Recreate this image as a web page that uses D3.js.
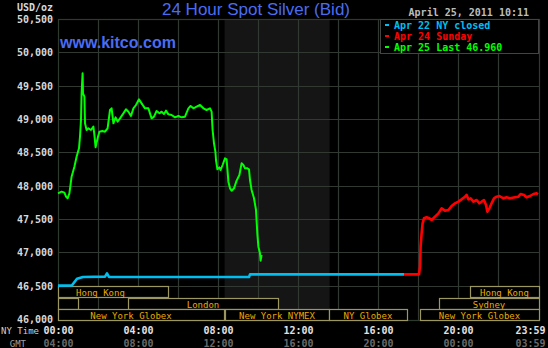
<!DOCTYPE html>
<html>
<head>
<meta charset="utf-8">
<script src="https://cdn.jsdelivr.net/npm/d3@7"></script>
<style>
  html, body { margin: 0; padding: 0; background: #000; }
  svg { display: block; }
</style>
</head>
<body>
<svg id="chart" width="548" height="348"></svg>
<script>
// Apr 25 (today) - green, hours after NY midnight
const todayHours = [0, 0.18, 0.32, 0.40, 0.48, 0.57, 0.68, 0.82, 0.93, 1.05, 1.10, 1.15, 1.18, 1.23, 1.25, 1.32, 1.35, 1.43, 1.52, 1.65, 1.77, 1.82, 1.88, 1.98, 2.07, 2.22, 2.35, 2.48, 2.60, 2.68, 2.77, 2.88, 2.98, 3.10, 3.27, 3.40, 3.52, 3.65, 3.77, 3.90, 4.05, 4.18, 4.35, 4.52, 4.68, 4.80, 4.93, 5.07, 5.18, 5.30, 5.40, 5.52, 5.68, 5.85, 6.02, 6.18, 6.35, 6.52, 6.63, 6.77, 6.93, 7.10, 7.27, 7.43, 7.60, 7.68, 7.73, 7.80, 7.87, 7.90, 7.97, 8.07, 8.13, 8.23, 8.35, 8.43, 8.52, 8.60, 8.68, 8.80, 8.93, 9.07, 9.18, 9.27, 9.35, 9.47, 9.55, 9.60, 9.68, 9.80, 9.90, 9.97, 10.02, 10.10, 10.13, 10.18];
const todayBid = [47885, 47910, 47895, 47835, 47810, 47885, 48135, 48285, 48435, 48560, 48735, 48985, 49385, 49685, 49385, 49335, 48935, 48835, 48860, 48835, 48885, 48760, 48575, 48710, 48810, 48820, 48810, 48860, 49135, 49160, 48935, 49025, 48960, 49010, 49085, 49145, 49110, 49045, 49160, 49210, 49295, 49235, 49160, 49160, 49010, 49035, 49120, 49085, 49110, 49075, 49125, 49070, 49060, 49025, 49045, 49025, 49035, 49160, 49195, 49160, 49185, 49210, 49160, 49135, 49160, 49110, 48835, 48635, 48510, 48385, 48245, 48275, 48235, 48310, 48410, 48395, 48060, 47960, 47925, 47960, 48075, 48160, 48335, 48310, 48260, 48260, 48245, 48085, 47935, 47810, 47635, 47260, 47085, 46985, 46875, 46960];

// Apr 22 NY closed - blue
const closedHours = [0, 0.70, 0.95, 1.25, 2.35, 2.45, 2.55, 9.55, 9.60, 17.30];
const closedBid = [46500, 46505, 46605, 46630, 46635, 46685, 46630, 46630, 46670, 46670];

// Apr 24 Sunday - red
const sundayHours = [17.30, 18.05, 18.10, 18.13, 18.18, 18.23, 18.30, 18.43, 18.57, 18.68, 18.85, 19.02, 19.18, 19.35, 19.52, 19.68, 19.85, 20.02, 20.18, 20.35, 20.43, 20.52, 20.63, 20.77, 20.93, 21.07, 21.18, 21.30, 21.40, 21.47, 21.57, 21.68, 21.80, 21.93, 22.07, 22.27, 22.43, 22.60, 22.85, 23.02, 23.13, 23.30, 23.43, 23.60, 23.77, 23.93, 24.0];
const sundayBid = [46670, 46670, 46785, 47085, 47285, 47435, 47510, 47525, 47510, 47485, 47535, 47585, 47660, 47625, 47635, 47695, 47735, 47760, 47795, 47835, 47860, 47795, 47810, 47760, 47785, 47735, 47760, 47785, 47710, 47610, 47660, 47735, 47810, 47835, 47845, 47810, 47825, 47810, 47825, 47835, 47875, 47860, 47825, 47845, 47875, 47885, 47870];

const priceTicks = [46000, 46500, 47000, 47500, 48000, 48500, 49000, 49500, 50000, 50500];
const timeTicks = [0, 4, 8, 12, 16, 20, 24];
const nyLabels = ["00:00", "04:00", "08:00", "12:00", "16:00", "20:00", "23:59"];
const gmtLabels = ["04:00", "08:00", "12:00", "16:00", "20:00", "00:00", "03:59"];

const legendNames = ["Apr 22 NY closed", "Apr 24 Sunday", "Apr 25 Last 46.960"];
const legendColors = ["#00bff0", "#ff0000", "#00ff00"];

// market sessions: row, start, end (hours, NY time), label
const sessionRow = [0, 0, 1, 1, 1, 2, 2, 2, 2];
const sessionStart = [-1.25, 20.6, -1, 3.5, 19.05, -1, 8.35, 13.55, 18.1];
const sessionEnd = [5.5, 24.05, 1, 11, 24.05, 8.3, 13.55, 17.45, 24.05];
const sessionName = ["Hong Kong", "Hong Kong", "", "London", "Sydney", "New York Globex", "New York NYMEX", "NY Globex", "New York Globex"];

const pitHours = [8.33, 13.58]; // shaded NYMEX band

const svg = d3.select("#chart");
const plotLeft = 58, plotRight = 538, plotTop = 19, plotBottom = 319;

const x = d3.scaleLinear().domain([0, 24]).range([plotLeft, plotRight]);
const y = d3.scaleLinear().domain([46000, 50500]).range([plotBottom, plotTop]);

svg.append("rect").attr("width", 548).attr("height", 348).attr("fill", "#000");

// shaded pit session band
svg.append("rect")
    .attr("x", x(pitHours[0])).attr("y", plotTop)
    .attr("width", x(pitHours[1]) - x(pitHours[0]))
    .attr("height", plotBottom - plotTop + 1)
    .attr("fill", "#151515");

// grid
const grid = svg.append("g").attr("stroke", "#323832").attr("stroke-width", 1.2);
grid.selectAll("line.h")
    .data(priceTicks.filter(v => v > 46000))
    .enter().append("line")
    .attr("x1", plotLeft).attr("x2", plotRight + 1)
    .attr("y1", d => Math.round(y(d)) + 0.5).attr("y2", d => Math.round(y(d)) + 0.5);
grid.selectAll("line.v")
    .data(d3.range(2, 24, 2))
    .enter().append("line")
    .attr("y1", plotTop).attr("y2", plotBottom + 1)
    .attr("x1", d => Math.round(x(d)) + 0.5).attr("x2", d => Math.round(x(d)) + 0.5);

// frame
svg.append("rect")
    .attr("x", plotLeft + 0.5).attr("y", plotTop + 0.5)
    .attr("width", plotRight - plotLeft + 1).attr("height", plotBottom - plotTop + 1)
    .attr("fill", "none").attr("stroke", "#2e3a2e").attr("stroke-width", 1.2);

// sessions
const rowTop = [286, 298, 309];
const sess = svg.append("g");
sessionName.forEach((name, i) => {
    const s = Math.max(0, sessionStart[i]), e = Math.min(24.05, sessionEnd[i]);
    sess.append("rect")
        .attr("x", x(s) + 0.5).attr("y", rowTop[sessionRow[i]] + 0.5)
        .attr("width", x(e) - x(s)).attr("height", 11)
        .attr("fill", "#000").attr("stroke", "#9c9660").attr("stroke-width", 1.2);
    if (name) {
        sess.append("text")
            .attr("x", x((sessionStart[i] + sessionEnd[i]) / 2))
            .attr("y", rowTop[sessionRow[i]] + 9.5)
            .attr("text-anchor", "middle")
            .attr("fill", "#eaaa00")
            .style("font", "9px 'DejaVu Sans Mono', monospace")
            .text(name);
    }
});

// price lines
const line = d3.line().x(d => x(d[0])).y(d => y(d[1]));
function drawSeries(hours, bids, color, width) {
    svg.append("path")
        .datum(d3.zip(hours, bids))
        .attr("d", line)
        .attr("fill", "none")
        .attr("stroke", color)
        .attr("stroke-width", width)
        .attr("stroke-linejoin", "round");
}
drawSeries(closedHours, closedBid, legendColors[0], 2.6);
drawSeries(sundayHours, sundayBid, legendColors[1], 2.6);
drawSeries(todayHours, todayBid, legendColors[2], 2);

// y axis labels
const yAxis = d3.axisLeft(y).tickValues(priceTicks).tickSize(0).tickPadding(0)
    .tickFormat(d3.format(","));
const yg = svg.append("g").attr("transform", "translate(53,0)").call(yAxis);
yg.select(".domain").remove();
yg.selectAll("text")
    .attr("fill", "#d8d8d8")
    .attr("dy", "0.35em")
    .style("font", "bold 10px 'DejaVu Sans Mono', monospace");

svg.append("text").attr("x", 53).attr("y", 11).attr("text-anchor", "end")
    .attr("fill", "#d8d8d8")
    .style("font", "bold 10px 'DejaVu Sans Mono', monospace")
    .text("USD/oz");

// x axis labels (NY time and GMT)
function timeAxis(labels, yPos, color) {
    const ax = d3.axisBottom(x).tickValues(timeTicks).tickSize(0).tickPadding(0)
        .tickFormat((d, i) => labels[i]);
    const g = svg.append("g").attr("transform", `translate(0,${yPos})`).call(ax);
    g.select(".domain").remove();
    g.selectAll("text")
        .attr("fill", color)
        .attr("dy", 0)
        .style("font", "bold 10px 'DejaVu Sans Mono', monospace");
    g.selectAll(".tick").filter(d => d === 24).select("text").attr("dx", -8);
}
timeAxis(nyLabels, 334, "#e0e0e0");
timeAxis(gmtLabels, 347, "#6a6a6a");

svg.append("text").attr("x", 39).attr("y", 334).attr("text-anchor", "end")
    .attr("fill", "#d0d0d0").style("font", "9px 'DejaVu Sans Mono', monospace").text("NY Time");
svg.append("text").attr("x", 26).attr("y", 347).attr("text-anchor", "end")
    .attr("fill", "#a0a0a0").style("font", "9px 'DejaVu Sans Mono', monospace").text("GMT");

// legend
svg.append("rect")
    .attr("x", 380.5).attr("y", plotTop + 0.5).attr("width", 158).attr("height", 34)
    .attr("fill", "#000").attr("stroke", "#444").attr("stroke-width", 1);
const leg = svg.append("g");
legendNames.forEach((name, i) => {
    leg.append("rect")
        .attr("x", 385).attr("y", 24 + i * 11).attr("width", 4).attr("height", 2)
        .attr("fill", legendColors[i]);
    leg.append("text")
        .attr("x", 394).attr("y", 28.5 + i * 11)
        .attr("fill", legendColors[i])
        .style("font", "bold 10px 'DejaVu Sans Mono', monospace")
        .text(name);
});

// titles
svg.append("text").attr("x", 256).attr("y", 15).attr("text-anchor", "middle")
    .attr("fill", "#4a6cf2")
    .style("font", "17px 'Liberation Sans', Arial, sans-serif")
    .text("24 Hour Spot Silver (Bid)");
svg.append("text").attr("x", 529).attr("y", 16).attr("text-anchor", "end")
    .attr("fill", "#bdbdbd")
    .style("font", "bold 10px 'DejaVu Sans Mono', monospace")
    .text("April 25, 2011 10:11");
svg.append("text").attr("x", 60).attr("y", 48)
    .attr("fill", "#4a6cf2")
    .style("font", "bold 16px 'Liberation Sans', Arial, sans-serif")
    .text("www.kitco.com");
</script>
</body>
</html>
